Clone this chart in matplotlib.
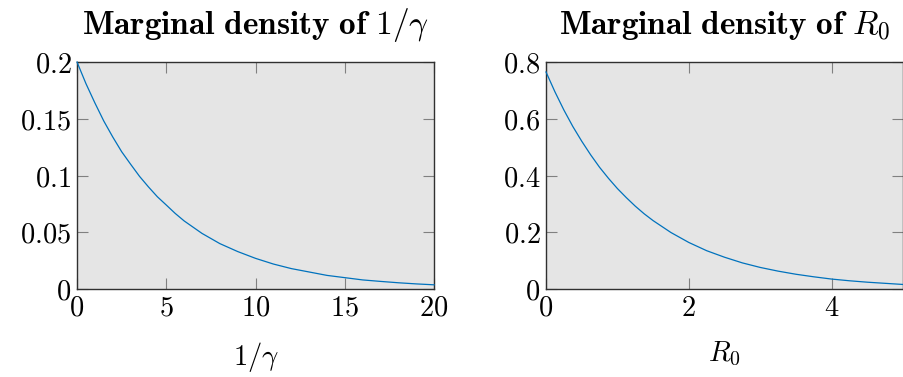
import matplotlib
matplotlib.use("Agg")
import matplotlib.pyplot as plt

plt.rcParams["mathtext.fontset"] = "cm"
plt.rcParams["font.family"] = "serif"

# density of 1/gamma (half steps near the origin, unit steps afterwards)
inv_gamma = [0, 0.5, 1, 1.5, 2, 2.5, 3, 3.5, 4, 4.5, 5, 5.5, 6, 7, 8, 9, 10,
             11, 12, 13, 14, 15, 16, 17, 18, 19, 20]
dens_inv_gamma = [0.200, 0.181, 0.164, 0.148, 0.134, 0.121, 0.110, 0.0993,
                  0.090, 0.0813, 0.074, 0.0666, 0.060, 0.049,
                  0.040, 0.033, 0.027, 0.022, 0.018, 0.015, 0.012, 0.010,
                  0.008, 0.0067, 0.0055, 0.0045, 0.0037]

# density of R0 (finer near the origin)
r0 = [0.0, 0.125, 0.25, 0.375, 0.5, 0.625, 0.75, 0.875, 1.0, 1.125, 1.25,
      1.375, 1.5, 1.75, 2.0, 2.25, 2.5, 2.75, 3.0, 3.25, 3.5, 3.75, 4.0,
      4.25, 4.5, 4.75, 5.0]
dens_r0 = [0.765, 0.695, 0.631, 0.573, 0.521, 0.473, 0.429, 0.390, 0.354,
           0.322, 0.292, 0.265, 0.241, 0.199, 0.164,
           0.135, 0.112, 0.092, 0.076, 0.063, 0.052, 0.043, 0.035, 0.029,
           0.024, 0.020, 0.016]

left_xticks = [0, 5, 10, 15, 20]
left_yticks = [0, 0.05, 0.1, 0.15, 0.2]
left_yticklabels = ["0", "0.05", "0.1", "0.15", "0.2"]
right_xticks = [0, 2, 4]
right_yticks = [0, 0.2, 0.4, 0.6, 0.8]
right_yticklabels = ["0", "0.2", "0.4", "0.6", "0.8"]

BG = "#e5e5e5"
LINE = "#0072bd"
FS = 20.5


def style_axis(ax, x, y, xlim, ylim, xt, xtl, yt, ytl, title, xlabel):
    ax.set_facecolor(BG)
    ax.plot(x, y, color=LINE, lw=0.9, clip_on=False, zorder=3)
    ax.set_xlim(*xlim)
    ax.set_ylim(*ylim)
    ax.set_xticks(xt)
    ax.set_xticklabels(["$%s$" % t for t in xtl], fontsize=FS)
    ax.set_yticks(yt)
    ax.set_yticklabels(["$%s$" % t for t in ytl], fontsize=FS)
    ax.tick_params(direction="in", length=8, width=0.8, color="#808080",
                   top=True, right=True, pad=4)
    for s in ax.spines.values():
        s.set_color("#303030")
        s.set_linewidth(1.0)
    ax.set_title(title, fontsize=24, pad=20)
    ax.set_xlabel(xlabel, fontsize=FS, labelpad=13)


fig = plt.figure(figsize=(9.04, 3.77), dpi=100)
ax1 = fig.add_axes([0.0852, 0.2334, 0.395, 0.602])
ax2 = fig.add_axes([0.604, 0.2334, 0.395, 0.602])

style_axis(ax1, inv_gamma, dens_inv_gamma, (0, 20), (0, 0.2),
           left_xticks, [str(t) for t in left_xticks],
           left_yticks, left_yticklabels,
           r"$\mathbf{Marginal\ density\ of}\ 1/\gamma$", r"$1/\gamma$")
style_axis(ax2, r0, dens_r0, (0, 5), (0, 0.8),
           right_xticks, [str(t) for t in right_xticks],
           right_yticks, right_yticklabels,
           r"$\mathbf{Marginal\ density\ of}\ R_0$", r"$R_0$")

fig.savefig("out.png", dpi=100)
